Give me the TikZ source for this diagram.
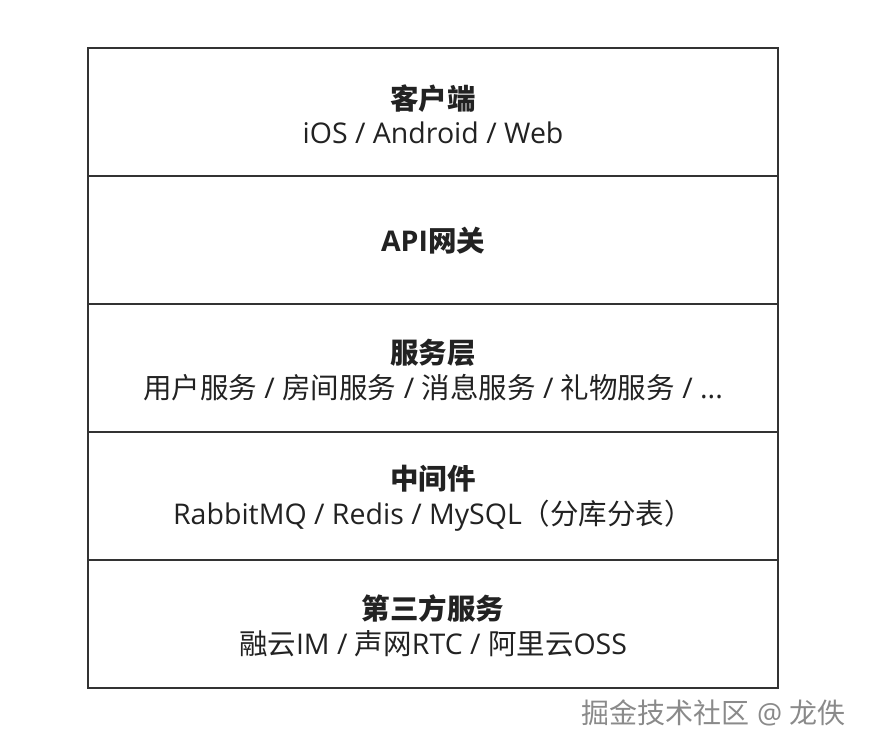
\documentclass[tikz,border=0pt]{standalone}
\usepackage{fontspec}
\setmainfont{Open Sans}
\newfontfamily\cjk{Noto Sans CJK SC}
\newcommand\zh[1]{{\cjk #1}}
\definecolor{edge}{HTML}{333333}
\definecolor{ink}{HTML}{222222}
\definecolor{mark}{HTML}{8A8A8A}

\begin{document}
\begin{tikzpicture}
  [x=1pt,y=-1pt,
   every node/.style={text=ink,align=center,font=\fontsize{28.5}{34.5}\selectfont},
   layer/.style={draw=edge,line width=2pt,minimum width=690pt,minimum height=128pt,inner sep=0pt},
   words/.style={anchor=center}]
  \useasboundingbox (0,0) rectangle (870,748);
  % the five layers
  \node[layer] (client)  at (433,111.5) {};
  \node[layer] (gateway) at (433,240)   {};
  \node[layer] (service) at (433,368)   {};
  \node[layer] (middle)  at (433,496)   {};
  \node[layer] (third)   at (433,624)   {};
  % their texts
  \node[words] (clientT)  at (433,114) {\textbf{\zh{客户端}}\\iOS / Android / Web};
  \node[words] (gatewayT) at (433,241) {\textbf{API\zh{网关}}};
  \node[words] (serviceT) at (433,370) {\textbf{\zh{服务层}}\\\zh{用户服务} / \zh{房间服务} / \zh{消息服务} / \zh{礼物服务} / ...};
  \node[words] (middleT)  at (433,498) {\textbf{\zh{中间件}}\\RabbitMQ / Redis / MySQL\zh{（分库分表）}};
  \node[words] (thirdT)   at (433,626) {\textbf{\zh{第三方服务}}\\\zh{融云}IM / \zh{声网}RTC / \zh{阿里云}OSS};
  % watermark
  \node[text=mark,font=\fontsize{28}{30}\selectfont,anchor=east] (wm) at (849,713) {\zh{掘金技术社区} @ \zh{龙佚}};
\end{tikzpicture}
\end{document}
